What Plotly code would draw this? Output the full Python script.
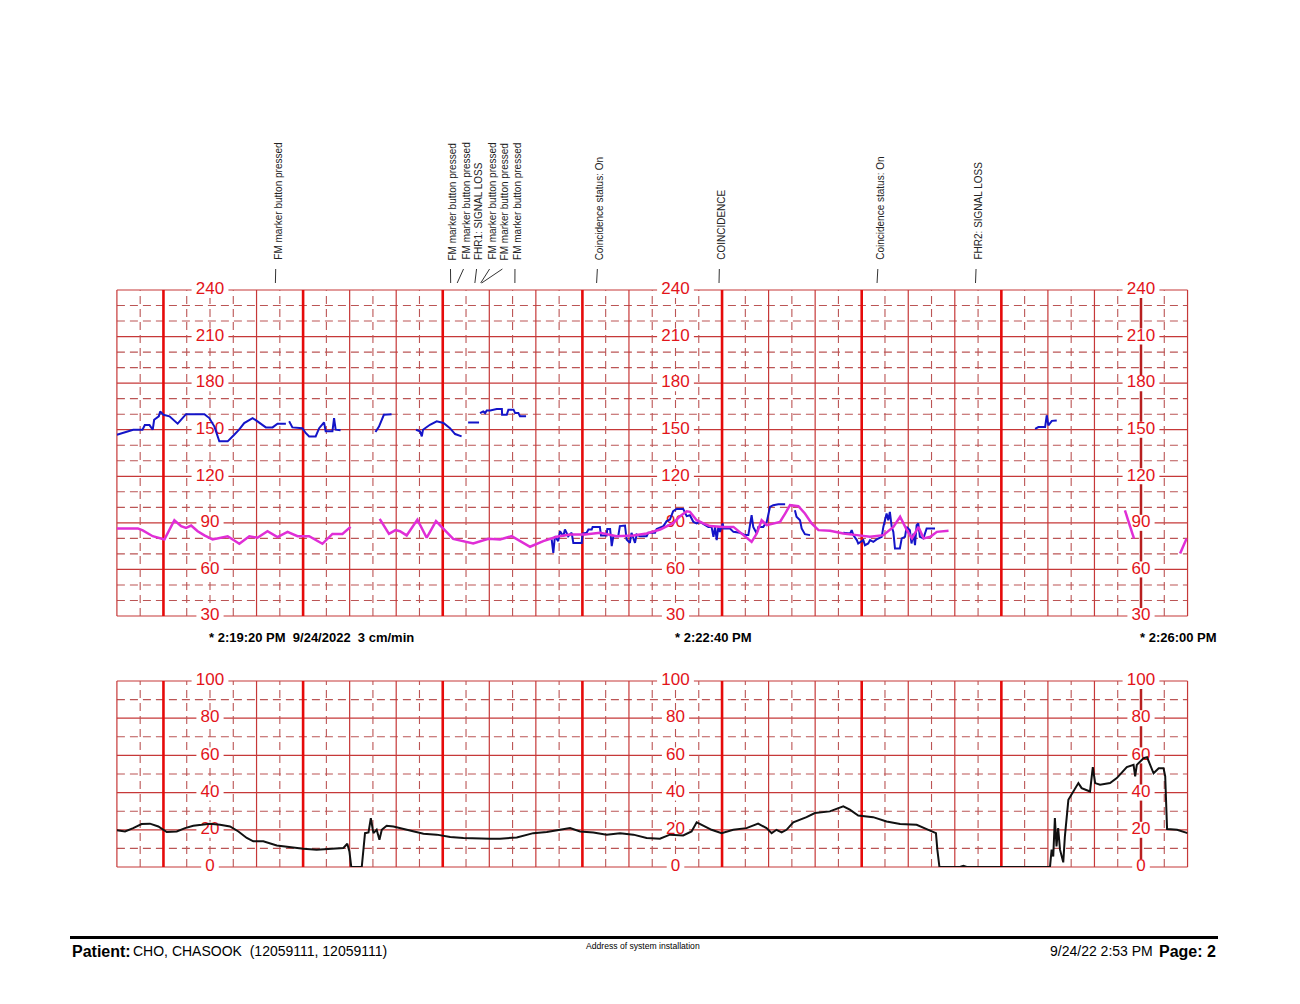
import plotly.graph_objects as go

# ---------------- data (time in seconds relative to 2:19:20 PM) ----------------
fhr1_t = [-40, -37.4, -36, -33, -29, -28, -26, -24.6, -24, -22, -21.4, -20, -17.4, -13.9, -10.3, -2.4, -0.3, 1.9, 4, 7.6,
          10.4, 12.5, 14.7, 18.3, 20.4, 24, 26.9, 29, 32.6, None,
          34, 35.4, 39.7, 41.1, 42.6, 45.4, 46.9, 49, 49.7, 52.6, 53.3, 54, 56.1, None,
          71.1, 72.6, 74.7, 76.9, 78, None,
          88.5, 90.2, 91, 91.5, 94.5, 97.4, 100.3, 103.1, 105.3, 108.1, None,
          110.9, 115.6, None,
          116, 117.4, 118.2, 118.9, 120.4, 123.2, 125.4, 125.5, 127.5, 128.2, 130.4, 131.1, 132.5, 133.2, 135.8, None,
          146.8, 147.5, 148.2, 149.6, 150.4, 151.8, 152.5, 153.9, 155.4, 156.1, 159.7, 160.1, 161.8, 162.6, 164.0, 164.4,
          167.5, 168.0, 170.4, 170.7, 171.9, 172.6, 173.3, 175.4, 176.1, 178.3, 179.0, 180.4, 181.1, 182.6, 183.3, 184.7,
          187.6, 188.3, 191.2, 191.9, 194.8, 196.2, 197.6, 199.0, 200.5, 203.3, 204.8,
          206.2, 207.7, 209.1, 210.5, 212.7, 214.1, 215.5, 216.3, 217.0, 217.7, 218.4, 219.1, 220.3, 220.6, 223.4, 224.9,
          227.7, 229.9, 231.3, 232.0, 232.7, 233.4, 234.9, 235.6, 237.7, 239.2, 240.6, 242.0, 244.2, 247.1, None,
          251.3, 252.0, 253.5, 254.2, 255.6, 257.8, None,
          272.1, 275.0, 275.7, 276.4, 277.9, 278.5, 280.7, 281.4, 282.8, 283.6, 285.0, 286.4, 288.6, 289.3, 290.7, 291.4,
          292.1, 292.9, 293.6, 294.3, 296.4, 297.2, 298.6, 299.3, 300.7, 301.4, 302.2, 302.9, 303.6, 304.3, 305.0, 306.5,
          307.9, 309.3, 311.5, None,
          354.5, 355.9, 358.8, 359.5, 360.2, 361.7, 363.8]
fhr1_bpm = [146.8, 148, 149, 150, 150, 153, 153, 150, 156.4, 158.6, 161.8, 159.6, 158.6, 153.9, 160, 160, 157.5, 152, 142.5, 142.5,
            146.8, 150, 154.3, 157.5, 155.4, 151.5, 151.5, 153.9, 153.9, None,
            155.4, 151.5, 151, 147.9, 145.7, 145.7, 151, 154.7, 149, 149, 157.5, 150, 149.6, None,
            148.5, 152, 159.6, 160, 160, None,
            150, 149, 145.7, 150, 153.2, 155.4, 154.3, 151, 147.2, 145.7, None,
            154.7, 154.7, None,
            160.7, 161.8, 160.7, 162.4, 162.4, 163.3, 163.3, 159.6, 159.6, 162.9, 162.9, 160.7, 160.7, 158.6, 158.6, None,
            79.3, 70.7, 81.4, 78.2, 84.6, 81.4, 85.7, 81.4, 83.6, 77.1, 77.1, 83.1, 83.6, 85.7, 85.7, 87.4,
            87.4, 81.9, 81.9, 86.1, 86.1, 75, 81.4, 81.4, 87.9, 88.3, 79.3, 77.1, 83.6, 77.1, 82.5, 81.4,
            81.4, 83.6, 83.6, 86.1, 87.9, 91.1, 92.1, 97.5, 99, 99, 94.3,
            94.9, 90.6, 89.6, 90.6, 88.5, 87.4, 87.4, 81, 87.4, 78.9, 87.4, 84.2, 89.6, 86.4, 86.4, 84.2,
            83.6, 82.1, 82.1, 87.4, 94.9, 87.4, 83.1, 87.4, 87.4, 90.6, 100.3, 101.4, 102, 102, None,
            98.1, 93.9, 91.7, 86.4, 82.7, 82.1, None,
            83.6, 83.1, 85.3, 82.1, 78.9, 76.7, 78.9, 75.6, 76.7, 78.9, 77.8, 79.3, 81, 87.4, 96, 91.7,
            97.1, 87.4, 84.2, 73.5, 73.5, 80, 81, 87.4, 85.3, 76.7, 83.1, 75.6, 88.5, 89.6, 81, 80,
            86.4, 86.4, 86.4, None,
            150.6, 151.7, 151.7, 159.3, 152.8, 155.7, 156]

fhr2_t = [-40, -31, -28.9, -24.6, -19.6, -15.3, -12.4, -10.3, -8.1, -5.3, -2.4, 1.1, 7.6, 12.6, 16.9, 20.4, 24.7, 29, 33.3,
          37.6, 42.6, 48.3, 52.6, 56.9, 60.4, None,
          72.9, 76.9, 79.7, 81.6, 84.5, 89.1, 93.1, 97.1, 104.5, 113.1, 119.6, 124.6, 129.6, 137.5, 143.2, 148.9, 154.7,
          161.1, 167.6, 174.7, 181.9, 187.6, 193.4, 199.1, 202.0, 204.8, 206.2, 209.1, 212.0, 214.8, 220.6, 224.9, 229.2,
          232.7, 234.9, 237.0, 239.2, 244.9, 247.1, 249.2, 252.8, 255.6, 258.5, 261.4, 266.4, 272.1, 277.9, 283.6, 289.3,
          293.6, 296.5, 299.4, 301.6, 304.4, 306.6, 309.5, 312.3, 317.3, None,
          393.1, 397.0, None,
          416.8, 419.6]
fhr2_bpm = [86.4, 86.4, 85.1, 81.4, 79.3, 91.7, 87.9, 86.8, 88.3, 84.6, 81.9, 79.3, 81.4, 76.5, 81.4, 80.4, 84.6, 80.8, 84.2,
            81.4, 81.4, 76.5, 82.9, 82.9, 87.4, None,
            92.6, 82.9, 85.3, 84.6, 81.9, 92.1, 80.4, 91.1, 79.7, 76.7, 79.7, 79.3, 81.4, 74.6, 78.2, 81, 82.5,
            82.5, 83.6, 81.4, 81.9, 83.1, 85.7, 90, 94.3, 97.5, 97.1, 91.7, 89.6, 87.9, 87.4, 87.4, 82.1,
            77.8, 83.1, 91.7, 88.5, 90.6, 96, 101.4, 100.7, 96, 89.6, 85.3, 84.9, 83.1, 82.1, 81, 82.1,
            87.4, 93.9, 85.3, 80, 87.4, 80, 81, 84.2, 84.9, None,
            98.1, 79.9, None,
            70.3, 79.9]

toco_t = [-40, -36.5, -33, -29.4, -25.8, -22.2, -18.6, -14.3, -10.7, -7.2, -3.6, 0, 4.3, 8.6, 12.2, 15.8, 18.6, 22.9,
          28.7, 34.4, 40.1, 45.8, 51.6, 57.3, 59.0, 59.9, 60.7, 65.2, 66.6, 68.1, 69.1, 70.2, 71.6, 72.8, 73.8, 75.9,
          78.8, 83.1, 87.4, 91.7, 97.4, 103.2, 108.9, 114.6, 120.3, 124.6, 131.8, 138.9, 144.7, 150.4, 154.7, 159.0,
          164.7, 170.4, 176.2, 181.9, 187.6, 193.3, 197.6, 203.3, 206.9, 209.1, 211.2, 215.5, 219.8, 224.8, 230.5,
          235.5, 239.1, 241.3, 243.4, 245.6, 247.7, 250.6, 256.3, 259.9, 266.3, 272.1, 274.9, 278.5, 284.9, 290.7,
          296.5, 303.6, 307.9, 311.9, 312.5, 313.4, 322.2, 323.7, 325.1, 360.9, 361.6, 362.3, 363.0, 363.7, 364.4,
          365.2, 366.6, 367.3, 368.8, 370.2, 371.7, 373.1, 374.5, 378.1, 379.3, 380.3, 382.4, 386.7, 389.6, 393.9,
          396.8, 397.5, 398.2, 401.1, 402.6, 404.7, 405.4, 407.6, 409.7, 410.4, 411.2, 415.5, 420]
toco_val = [19.7, 19.1, 20.9, 23.1, 23.3, 21.8, 18.8, 19.1, 20.9, 22.2, 22.7, 23.3, 22.7, 21.8, 19.1, 15.6, 13.8, 13.8,
            11.6, 10.6, 9.8, 9.3, 9.7, 10.2, 12.5, 8.4, 0, 0, 18.2, 18.6, 26.3, 18.2, 20, 14.7, 20, 22.2,
            21.8, 20.4, 19.1, 17.9, 17.4, 16.1, 15.6, 15.2, 15.2, 15.2, 15.9, 18.2, 18.8, 20, 20.9, 19.1,
            18.6, 17.4, 18.2, 17.4, 15.6, 15.2, 17.4, 17, 19.1, 24, 22.7, 20, 18.2, 20, 20.9,
            23.3, 20.9, 18.2, 20, 18.6, 20, 24, 26.8, 29, 29.9, 32.6, 30.8, 27.7, 26.8, 24.5,
            23.1, 22.7, 20.4, 18.2, 9.3, 0, 0, 0.7, 0, 0, 9.3, 5.7, 26.3, 11.1, 20.9,
            9.3, 2.5, 16.5, 36.1, 38.8, 42.4, 45.1, 42.4, 40.6, 53.7, 45.1, 44.2, 45.1, 47.8, 53.7,
            54.9, 48.7, 54.9, 58.5, 59, 53.1, 50.4, 53.1, 53.1, 48.7, 20.4, 20, 18.2]

fhr_ticks = [240, 210, 180, 150, 120, 90, 60, 30]
toco_ticks = [100, 80, 60, 40, 20, 0]
label_cols = [0, 200, 400]
time_labels = ["* 2:19:20 PM\u00a0\u00a09/24/2022\u00a0\u00a03 cm/min", "* 2:22:40 PM", "* 2:26:00 PM"]

event_labels = ["FM marker button pressed", "FM marker button pressed", "FM marker button pressed",
                "FHR1: SIGNAL LOSS", "FM marker button pressed", "FM marker button pressed",
                "FM marker button pressed", "Coincidence status: On", "COINCIDENCE",
                "Coincidence status: On", "FHR2: SIGNAL LOSS"]
event_mark_t = [28.1, 103.4, 106.2, 113.8, 116.3, 116.7, 131.0, 166.1, 218.7, 286.6, 328.9]
event_label_t = [29.3, 104.4, 110.0, 115.6, 121.2, 126.7, 132.1, 167.5, 219.9, 288.0, 330.2]

# ---------------- geometry (page pixels; the page body adds an 8px margin) ----------------
OFF = 8
W, H = 1282, 986
T0, T1 = -40, 420


def PX(px):
    return (px - OFF) / W


def PY(py):
    return 1 - (py - OFF) / H


XD = [PX(116.9), PX(1187.55)]
YU = [PY(616), PY(290)]
YL = [PY(867), PY(681)]


def xp(t):
    return XD[0] + (t - T0) / (T1 - T0) * (XD[1] - XD[0])


def yup(v):
    return YU[0] + (v - 30) / 210 * (YU[1] - YU[0])


def ylo(v):
    return YL[0] + v / 100 * (YL[1] - YL[0])


THIN = "#c63838"
DASHC = "#bb5555"
THICK = "#e60a0a"
THICK_DARK = "#b82020"
LABEL_RED = "#e2141a"
DASH = "8px,5px"

shapes = []


def line(x0, y0, x1, y1, color, width, dash=None, layer="below"):
    d = dict(type="line", xref="paper", yref="paper", x0=x0, y0=y0, x1=x1, y1=y1,
             line=dict(color=color, width=width), layer=layer)
    if dash:
        d["line"]["dash"] = dash
    shapes.append(d)


def grid(yfun, vmin, vmax, solid_every):
    yb, yt = yfun(vmin), yfun(vmax)
    v = vmin
    while v <= vmax:
        if (v - vmin) % solid_every == 0:
            line(XD[0], yfun(v), XD[1], yfun(v), THIN, 1.2)
        else:
            line(XD[0], yfun(v), XD[1], yfun(v), DASHC, 1.1, DASH)
        v += 10
    t = T0
    while t <= T1:
        if t == 400:
            line(xp(t), yb, xp(t), yt, THICK_DARK, 2.5)
        elif (t + 20) % 60 == 0:
            line(xp(t), yb, xp(t), yt, THICK, 2.6)
        elif t in (0, 200):
            line(xp(t), yb, xp(t), yt, DASHC, 1.1, DASH)
        elif (t + 40) % 20 == 0:
            line(xp(t), yb, xp(t), yt, THIN, 1.2)
        else:
            line(xp(t), yb, xp(t), yt, DASHC, 1.1, DASH)
        t += 10


grid(yup, 30, 240, 30)
grid(ylo, 0, 100, 20)

# white boxes behind axis labels
for yfun, ticks in ((yup, fhr_ticks), (ylo, toco_ticks)):
    for tc in label_cols:
        for v in ticks:
            hw = (4 + 4.8 * len(str(v))) / W
            hh = 8 / H
            shapes.append(dict(type="rect", xref="paper", yref="paper",
                               x0=xp(tc) - hw, x1=xp(tc) + hw, y0=yfun(v) - hh, y1=yfun(v) + hh,
                               fillcolor="white", line=dict(width=0), layer="below"))

# event leader lines
for mt, lt in zip(event_mark_t, event_label_t):
    top_x = xp(lt) - 2.5 / W
    line(xp(mt), PY(283), top_x, PY(269), "#333333", 1, layer="above")

# footer rule
shapes.append(dict(type="line", xref="paper", yref="paper", x0=PX(70), x1=PX(1218),
                   y0=PY(937.5), y1=PY(937.5), line=dict(color="black", width=3)))

fig = go.Figure()

# axis label text (drawn before the traces so the traces pass over it)
fig.add_trace(go.Scatter(x=[tc for tc in label_cols for _ in fhr_ticks],
                         y=[v for _ in label_cols for v in fhr_ticks],
                         text=[str(v) for _ in label_cols for v in fhr_ticks],
                         mode="text", textfont=dict(family="Arial, Liberation Sans", size=17, color=LABEL_RED),
                         cliponaxis=False, hoverinfo="skip", xaxis="x", yaxis="y"))
fig.add_trace(go.Scatter(x=[tc for tc in label_cols for _ in toco_ticks],
                         y=[v for _ in label_cols for v in toco_ticks],
                         text=[str(v) for _ in label_cols for v in toco_ticks],
                         mode="text", textfont=dict(family="Arial, Liberation Sans", size=17, color=LABEL_RED),
                         cliponaxis=False, hoverinfo="skip", xaxis="x2", yaxis="y2"))

fig.add_trace(go.Scatter(x=fhr1_t, y=fhr1_bpm, mode="lines", connectgaps=False,
                         line=dict(color="#1414c8", width=2), xaxis="x", yaxis="y"))
fig.add_trace(go.Scatter(x=fhr2_t, y=fhr2_bpm, mode="lines", connectgaps=False,
                         line=dict(color="#e02ed6", width=2.5), xaxis="x", yaxis="y"))
fig.add_trace(go.Scatter(x=toco_t, y=toco_val, mode="lines",
                         line=dict(color="#111111", width=2), xaxis="x2", yaxis="y2"))

annotations = []
for txt, lt in zip(event_labels, event_label_t):
    annotations.append(dict(x=lt, xref="x", y=PY(262), yref="paper", text=txt, textangle=-90,
                            xanchor="center", yanchor="bottom", showarrow=False,
                            font=dict(family="Arial, Liberation Sans", size=10, color="#222222")))

for tc, txt in zip(label_cols, time_labels):
    annotations.append(dict(x=tc, xref="x", y=PY(637), yref="paper", text="<b>" + txt + "</b>",
                            xanchor="left", yanchor="middle", xshift=-3, showarrow=False,
                            font=dict(family="Arial, Liberation Sans", size=13, color="black")))

foot_font = "Arial, Liberation Sans"
annotations += [
    dict(x=PX(70), y=PY(951), xref="paper", yref="paper", text="<b>Patient:</b>", xanchor="left",
         yanchor="middle", showarrow=False, font=dict(family=foot_font, size=16, color="black")),
    dict(x=PX(131), y=PY(951), xref="paper", yref="paper",
         text="CHO, CHASOOK\u00a0\u00a0(12059111, 12059111)", xanchor="left", yanchor="middle",
         showarrow=False, font=dict(family=foot_font, size=14, color="black")),
    dict(x=PX(643), y=PY(946), xref="paper", yref="paper", text="Address of system installation",
         xanchor="center", yanchor="middle", showarrow=False, font=dict(family=foot_font, size=8.6, color="black")),
    dict(x=PX(1155), y=PY(951), xref="paper", yref="paper", text="9/24/22 2:53 PM", xanchor="right",
         yanchor="middle", showarrow=False, font=dict(family=foot_font, size=14, color="black")),
    dict(x=PX(1218), y=PY(951), xref="paper", yref="paper", text="<b>Page: 2</b>", xanchor="right",
         yanchor="middle", showarrow=False, font=dict(family=foot_font, size=16, color="black")),
]

ax_common = dict(visible=False, showgrid=False, zeroline=False, fixedrange=True)
fig.update_layout(
    width=W, height=H, autosize=False,
    margin=dict(l=0, r=0, t=0, b=0),
    paper_bgcolor="white", plot_bgcolor="rgba(0,0,0,0)",
    showlegend=False,
    xaxis=dict(domain=XD, range=[T0, T1], anchor="y", **ax_common),
    yaxis=dict(domain=YU, range=[30, 240], anchor="x", **ax_common),
    xaxis2=dict(domain=XD, range=[T0, T1], anchor="y2", **ax_common),
    yaxis2=dict(domain=YL, range=[0, 100], anchor="x2", **ax_common),
    shapes=shapes,
    annotations=annotations,
)

fig.write_html("out.html")
